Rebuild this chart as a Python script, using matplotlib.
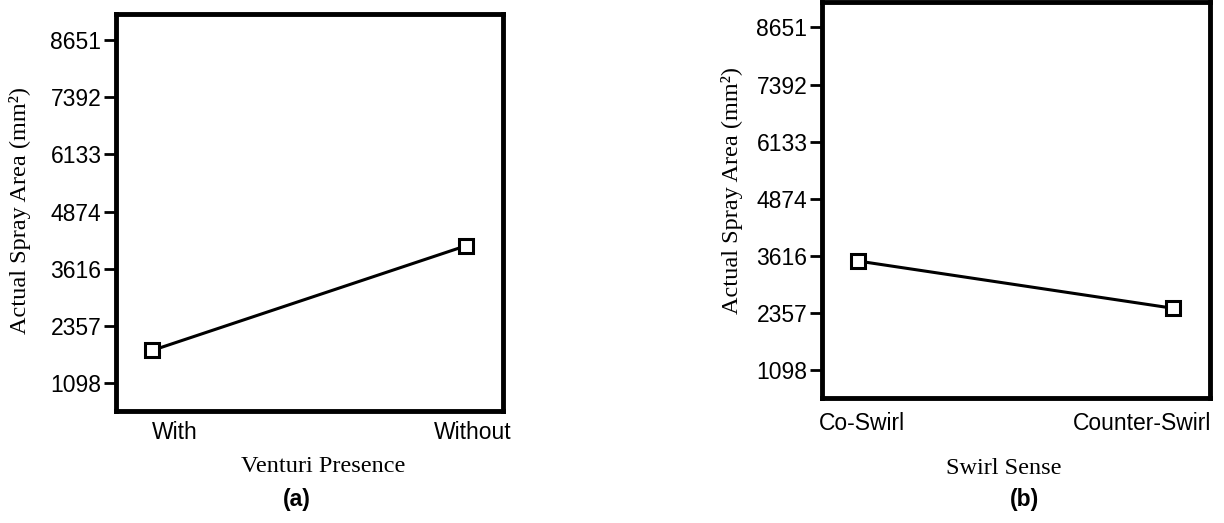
import matplotlib
matplotlib.use("Agg")
import matplotlib.pyplot as plt
import matplotlib.transforms as mtrans

# y axis ticks shared by both panels
yticks = [1098, 2357, 3616, 4874, 6133, 7392, 8651]

# panel (a): venturi presence
venturi_labels = ["With", "Without"]
venturi_area = [1822, 4120]

# panel (b): swirl sense
swirl_labels = ["Co-Swirl", "Counter-Swirl"]
swirl_area = [3506, 2467]

sans = "Liberation Sans"
serif = "Liberation Serif"

fig = plt.figure(figsize=(12.24, 5.23), dpi=100)
ax_a = fig.add_axes([0.0948, 0.214, 0.316, 0.759])
ax_b = fig.add_axes([0.6716, 0.239, 0.317, 0.757])


def draw_panel(ax, labels, values, xlabel, label_shift, label_ha, xpad):
    x = list(range(len(labels)))
    ax.plot(x, values, color="black", lw=2.2, marker="s", ms=10,
            mfc="white", mec="black", mew=2.2, solid_capstyle="butt")
    ax.set_xlim(-0.115, 1.118)
    ax.set_ylim(490, 9210)
    ax.set_yticks(yticks)
    ax.set_yticklabels([str(v) for v in yticks], fontfamily=sans, fontsize=16.5)
    ax.tick_params(axis="y", direction="out", length=9, width=2, pad=1.5)
    ax.set_xticks(x)
    ax.set_xticklabels(labels, fontfamily=sans, fontsize=16.5)
    ax.tick_params(axis="x", length=0, pad=xpad)
    # nudge the category labels sideways
    for lab, dx, ha in zip(ax.get_xticklabels(), label_shift, label_ha):
        lab.set_horizontalalignment(ha)
        lab.set_transform(lab.get_transform() +
                          mtrans.ScaledTranslation(dx / 100, 0, fig.dpi_scale_trans))
    for sp in ax.spines.values():
        sp.set_linewidth(3.5)
    ax.set_ylabel("Actual Spray Area (mm²)", fontfamily=serif, fontsize=17.5)
    ax.set_xlabel(xlabel, fontfamily=serif, fontsize=17.5)


draw_panel(ax_a, venturi_labels, venturi_area, "Venturi Presence",
           [0, 7], ["left", "center"], 7)
draw_panel(ax_b, swirl_labels, swirl_area, "Swirl Sense",
           [4, 38], ["center", "right"], 10)

ax_a.yaxis.set_label_coords(-0.22, 0.506)
ax_b.yaxis.set_label_coords(-0.204, 0.525)
ax_a.xaxis.set_label_coords(0.535, -0.113)
ax_b.xaxis.set_label_coords(0.469, -0.152)

fig.text(0.2426, 0.044, "(a)", fontfamily=sans, fontsize=16.5, fontweight="bold",
         ha="center", va="center")
fig.text(0.8374, 0.044, "(b)", fontfamily=sans, fontsize=16.5, fontweight="bold",
         ha="center", va="center")

fig.savefig("out.png", dpi=100, facecolor="white")
